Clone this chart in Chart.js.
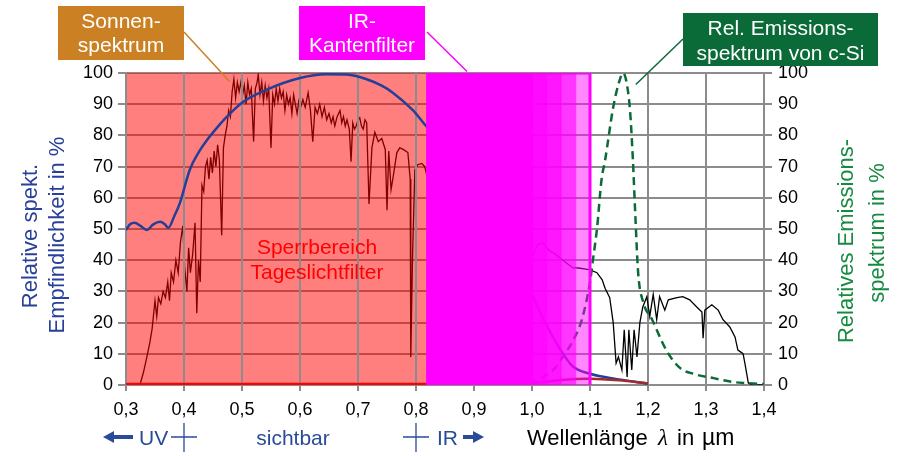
<!DOCTYPE html>
<html>
<head>
<meta charset="utf-8">
<script src="https://cdn.jsdelivr.net/npm/chart.js@4.4.1/dist/chart.umd.min.js"></script>
<style>
  html, body { margin: 0; padding: 0; background: #fff; }
  #c { display: block; }
</style>
</head>
<body>
<canvas id="c" width="897" height="456"></canvas>
<script>
// Sonnenspektrum (relativ, in %)
const sunWl = [0.32, 0.324, 0.33, 0.336, 0.341, 0.345, 0.35, 0.353, 0.356, 0.36, 0.364, 0.368, 0.372, 0.375,
  0.378, 0.382, 0.386, 0.39, 0.394, 0.398, 0.401, 0.405, 0.408, 0.411, 0.415, 0.419, 0.422, 0.425, 0.428,
  0.431, 0.434, 0.437, 0.44, 0.443, 0.446, 0.449, 0.452, 0.455, 0.458, 0.461, 0.465, 0.468, 0.471, 0.474,
  0.477, 0.48, 0.483, 0.486, 0.489, 0.492, 0.495, 0.498, 0.501, 0.504, 0.507, 0.51, 0.513, 0.516, 0.52,
  0.523, 0.526, 0.528, 0.531, 0.534, 0.537, 0.54, 0.543, 0.546, 0.55, 0.553, 0.556, 0.559, 0.562, 0.565,
  0.568, 0.571, 0.574, 0.577, 0.58, 0.583, 0.586, 0.589, 0.592, 0.595, 0.598, 0.601, 0.605, 0.609, 0.614,
  0.618, 0.622, 0.626, 0.63, 0.634, 0.638, 0.642, 0.646, 0.65, 0.654, 0.657, 0.66, 0.664, 0.669, 0.672,
  0.675, 0.678, 0.681, 0.685, 0.688, 0.691, 0.694, 0.697, 0.7, 0.703, 0.706, 0.709, 0.712, 0.715, 0.719,
  0.724, 0.729, 0.735, 0.741, 0.747, 0.75, 0.753, 0.757, 0.76, 0.767, 0.772, 0.778, 0.786, 0.79, 0.791,
  0.794, 0.798, 0.803, 0.81, 0.815, 0.819, 0.83, 0.85, 0.87, 0.89, 0.9, 0.91, 0.92, 0.93, 0.94,
  0.95, 0.962, 0.97, 0.98, 0.99, 1.0, 1.01, 1.019, 1.03, 1.04, 1.05, 1.06, 1.07, 1.08, 1.09,
  1.1, 1.112, 1.121, 1.126, 1.134, 1.14, 1.145, 1.149, 1.155, 1.159, 1.164, 1.167, 1.172, 1.176, 1.181,
  1.186, 1.191, 1.198, 1.203, 1.209, 1.215, 1.22, 1.229, 1.235, 1.25, 1.26, 1.272, 1.284, 1.293, 1.295,
  1.298, 1.31, 1.321, 1.329, 1.341, 1.35, 1.355, 1.362, 1.364, 1.367, 1.373, 1.38, 1.4];
const sunVal = [0, 0, 4, 9, 13.5, 18, 27, 22, 28, 26, 30, 28, 33, 27,
  36, 33, 40, 36, 46, 51, 38, 30, 44, 36, 42, 52, 23, 40, 33,
  64, 62, 70, 72, 66, 73, 68, 75, 70, 77, 72, 48, 76, 80, 83,
  88, 86, 94, 98, 92, 97, 94, 97, 93, 96, 90, 97, 93, 95, 78,
  95, 97, 99.5, 93, 97, 91, 96, 92, 95, 76, 93, 90, 95, 91, 95,
  92, 94, 88, 93, 90, 92, 87, 93, 90, 87, 91, 89, 91.5, 89, 93.7,
  88, 78, 89, 87, 90, 86, 89, 85, 87, 84, 86, 83, 86, 88, 84,
  86, 83, 85, 82, 71.6, 84, 82, 83, 85, 85.7, 83, 82, 85, 84, 58,
  76, 81, 78, 79, 75.5, 56, 75, 62.6, 66, 74.5, 76, 75.5, 74.5, 66, 9,
  41, 69, 70.6, 71, 70, 67, 66, 62, 63, 58, 55, 50, 38, 18, 8,
  10, 12, 22, 32, 38, 41, 45, 45.6, 43, 42, 40.5, 39, 37.6, 37.5, 37.2,
  36.9, 36, 33.7, 31, 28, 20, 7, 9, 4.8, 17.7, 2.6, 17.7, 4.8, 17.7, 9,
  20, 25, 28.3, 22, 29, 21, 28.3, 24, 27.3, 28, 28.3, 27.3, 25, 23.4, 15,
  24, 25.7, 24, 21, 18.6, 15.4, 11.2, 10.3, 10, 7, 0.6, 0, 0];

// Relative spektrale Empfindlichkeit (in %)
const sensWl = [0.3, 0.307, 0.315, 0.325, 0.336, 0.347, 0.359, 0.367, 0.373, 0.383, 0.393, 0.41, 0.425, 0.44,
  0.457, 0.474, 0.5, 0.543, 0.6, 0.646, 0.68, 0.715, 0.74, 0.76, 0.795, 0.82, 0.86, 0.9, 0.94, 0.97,
  1.0, 1.02, 1.05, 1.07, 1.1, 1.15, 1.2];
const sensVal = [49.7, 51.5, 52, 51, 49.7, 51.5, 52.3, 51.5, 50.4, 54, 58.4, 69, 74.5, 78.6,
  82.5, 86, 90.5, 94.7, 98.4, 99.6, 99.5, 98, 96, 93.7, 88, 82.5, 77, 70, 58, 44,
  29, 21, 11, 6, 3.6, 1.8, 0.4];

// Transmission Tageslichtfilter (in %)
const dayWl = [0.3, 0.82, 0.95, 1.0, 1.05, 1.1, 1.15, 1.2];
const dayVal = [0.3, 0.3, 0.3, 0.6, 1.6, 2.0, 1.5, 0.5];

// Relatives Emissionsspektrum von c-Si (in %)
const emWl = [0.95, 0.98, 1.0, 1.02, 1.04, 1.053, 1.07, 1.086, 1.1, 1.105, 1.112, 1.12, 1.126, 1.14, 1.15,
  1.157, 1.163, 1.169, 1.174, 1.178, 1.183, 1.191, 1.207, 1.232, 1.255, 1.28, 1.313, 1.345, 1.37, 1.4];
const emVal = [0, 0.5, 1.2, 2.7, 5.5, 9, 14, 21, 33, 40, 50, 66, 72, 89, 97,
  100, 97, 88, 72, 55, 36, 27, 21, 11, 5.5, 3.5, 2.2, 1, 0.6, 0.3];

// Sperrbereich Tageslichtfilter und Kanten des IR-Filters (in µm)
const blockRange = [0.3, 0.82];
const irStart = 0.82;
const irEdges = [1.1, 1.075, 1.05, 1.025, 1.0];
// Deckkraft je Filterstufe
const irAlpha = [0.47, 0.6, 0.6, 0.6, 0.97];

const gridColor = '#8c8c8c';
const blue = '#233f98';
const fontFam = '"Liberation Sans", Arial, sans-serif';

const pts = (xs, ys) => xs.map((x, i) => ({ x: x, y: ys[i] }));
const box = (x0, x1) => [{ x: x0, y: 0 }, { x: x0, y: 100 }, { x: x1, y: 100 }, { x: x1, y: 0 }];

const datasets = [
  {
    label: 'Sonnenspektrum', data: pts(sunWl, sunVal),
    borderColor: '#000', borderWidth: 1.3, pointRadius: 0, tension: 0, order: 20
  },
  {
    label: 'Sperrbereich', data: box(blockRange[0], blockRange[1]),
    backgroundColor: 'rgba(255,0,0,0.5)', borderWidth: 0, fill: 'origin', pointRadius: 0, order: 19
  },
  {
    label: 'Empfindlichkeit', data: pts(sensWl, sensVal),
    borderColor: blue, borderWidth: 2.5, pointRadius: 0, cubicInterpolationMode: 'monotone', order: 15
  },
  {
    label: 'Tageslichtfilter', data: pts(dayWl, dayVal),
    borderColor: '#a02c2c', borderWidth: 2.5, pointRadius: 0, tension: 0.3, order: 14,
    segment: { borderColor: c => c.p0.parsed.x < irStart ? '#ff0000' : '#a02c2c' }
  },
  {
    label: 'Emission c-Si', data: pts(emWl, emVal), yAxisID: 'y2',
    borderColor: '#0b6b38', borderWidth: 2.5, borderDash: [8, 5], pointRadius: 0,
    cubicInterpolationMode: 'monotone', order: 13
  }
];
// IR-Kantenfilter: übereinanderliegende, halbtransparente Flächen
irEdges.forEach((e, i) => {
  const first = i === 0;
  datasets.push({
    label: 'IR-Kantenfilter ' + e, data: box(irStart, e),
    backgroundColor: 'rgba(255,0,255,' + irAlpha[i] + ')', fill: 'origin', pointRadius: 0,
    borderColor: first ? '#ff00ff' : 'rgba(255,0,255,0.5)', borderWidth: first ? 3 : 1.5,
    order: 10 - i
  });
});

// senkrechte Gitterlinien über dem roten Sperrbereich
const gridOverRed = {
  id: 'gridOverRed',
  afterDatasetDraw(chart, args) {
    if (chart.data.datasets[args.index].label !== 'Sperrbereich') return;
    const { ctx, chartArea, scales: { x } } = chart;
    ctx.save();
    ctx.strokeStyle = gridColor;
    ctx.lineWidth = 2;
    x.ticks.forEach(t => {
      if (t.value > blockRange[1] + 1e-9) return;
      const px = x.getPixelForValue(t.value);
      ctx.beginPath();
      ctx.moveTo(px, chartArea.top);
      ctx.lineTo(px, chartArea.bottom);
      ctx.stroke();
    });
    ctx.restore();
  }
};

function callout(ctx, r, color, lines, baselines, from, to) {
  ctx.strokeStyle = color;
  ctx.lineWidth = 1.5;
  ctx.beginPath();
  ctx.moveTo(from[0], from[1]);
  ctx.lineTo(to[0], to[1]);
  ctx.stroke();
  ctx.fillStyle = color;
  ctx.fillRect(r[0], r[1], r[2], r[3]);
  ctx.fillStyle = '#fff';
  ctx.font = '21px ' + fontFam;
  ctx.textAlign = 'center';
  ctx.textBaseline = 'alphabetic';
  lines.forEach((l, i) => ctx.fillText(l, r[0] + r[2] / 2, baselines[i]));
}

function vText(ctx, text, cy, baseX, color) {
  ctx.save();
  ctx.translate(baseX, cy);
  ctx.rotate(-Math.PI / 2);
  ctx.fillStyle = color;
  ctx.textAlign = 'center';
  ctx.textBaseline = 'alphabetic';
  ctx.fillText(text, 0, 0);
  ctx.restore();
}

function arrow(ctx, tail, head, y, color) {
  const dir = Math.sign(head - tail);
  ctx.strokeStyle = color;
  ctx.fillStyle = color;
  ctx.lineWidth = 4;
  ctx.beginPath();
  ctx.moveTo(tail, y);
  ctx.lineTo(head - dir * 8, y);
  ctx.stroke();
  ctx.beginPath();
  ctx.moveTo(head, y);
  ctx.lineTo(head - dir * 11, y - 6);
  ctx.lineTo(head - dir * 11, y + 6);
  ctx.closePath();
  ctx.fill();
}

function cross(ctx, px, y, color) {
  ctx.strokeStyle = color;
  ctx.lineWidth = 1.3;
  ctx.beginPath();
  ctx.moveTo(px - 13, y);
  ctx.lineTo(px + 13, y);
  ctx.moveTo(px, y - 14);
  ctx.lineTo(px, y + 15);
  ctx.stroke();
}

const annotations = {
  id: 'annotations',
  afterDraw(chart) {
    const { ctx, scales: { x, y } } = chart;
    ctx.save();
    callout(ctx, [58, 6, 126, 54], '#cb8023', ['Sonnen-', 'spektrum'], [28, 52],
      [184, 32], [x.getPixelForValue(0.479), y.getPixelForValue(97.2)]);
    callout(ctx, [299, 6, 126, 54], '#ff00ff', ['IR-', 'Kantenfilter'], [28, 52],
      [427, 32], [x.getPixelForValue(0.888), y.getPixelForValue(100.5)]);
    callout(ctx, [683, 13, 195, 53], '#0b6b38', ['Rel. Emissions-', 'spektrum von c-Si'], [35, 60],
      [683, 39], [x.getPixelForValue(1.179), y.getPixelForValue(96.3)]);

    ctx.fillStyle = '#ff0000';
    ctx.font = '21px ' + fontFam;
    ctx.textAlign = 'center';
    ctx.fillText('Sperrbereich', 317, 254);
    ctx.fillText('Tageslichtfilter', 317, 279);

    ctx.font = '22px ' + fontFam;
    vText(ctx, 'Relative spekt.', 236, 37, '#29409a');
    vText(ctx, 'Empfindlichkeit in %', 235, 64, '#29409a');
    vText(ctx, 'Relatives Emissions-', 241, 853, '#178a42');
    vText(ctx, 'spektrum in %', 233, 884, '#178a42');

    // Zeile unter der x-Achse
    const by = 437;
    const bBlue = '#2a4a9a';
    arrow(ctx, 133, 103, by, bBlue);
    cross(ctx, x.getPixelForValue(0.4), by, bBlue);
    cross(ctx, x.getPixelForValue(0.8), by, bBlue);
    arrow(ctx, 463, 484, by, bBlue);
    ctx.font = '21px ' + fontFam;
    ctx.fillStyle = bBlue;
    ctx.textAlign = 'left';
    ctx.fillText('UV', 139, 445);
    ctx.fillText('IR', 437, 445);
    ctx.textAlign = 'center';
    ctx.fillText('sichtbar', 293, 445);

    ctx.fillStyle = '#000';
    ctx.textAlign = 'left';
    ctx.font = '22px ' + fontFam;
    ctx.fillText('Wellenlänge', 527, 445);
    ctx.fillText('in', 677, 445);
    ctx.font = '23px ' + fontFam;
    ctx.fillText('µm', 702, 445);
    ctx.font = 'italic 23px "Liberation Serif", serif';
    ctx.fillText('λ', 658, 445);
    ctx.restore();
  }
};

const tickFont = { family: fontFam, size: 18 };

new Chart(document.getElementById('c'), {
  type: 'line',
  data: { datasets: datasets },
  options: {
    responsive: false,
    animation: false,
    devicePixelRatio: 1,
    layout: { padding: { top: 73, left: 0, right: 0, bottom: 0 } },
    plugins: { legend: { display: false }, tooltip: { enabled: false } },
    scales: {
      x: {
        type: 'linear', min: 0.3, max: 1.4,
        afterFit: s => { s.height = 71; },
        ticks: {
          stepSize: 0.1, autoSkip: false, maxRotation: 0, padding: 8,
          color: '#000', font: tickFont,
          callback: v => v.toFixed(1).replace('.', ',')
        },
        grid: { color: gridColor, lineWidth: 2, tickLength: 6 },
        border: { color: gridColor, width: 2 }
      },
      y: {
        position: 'left', min: 0, max: 100,
        afterFit: s => { s.width = 126; },
        ticks: { stepSize: 10, padding: 5, color: '#000', font: tickFont },
        grid: { color: gridColor, lineWidth: 2, tickLength: 8 },
        border: { color: gridColor, width: 2 }
      },
      y2: {
        position: 'right', min: 0, max: 100,
        afterFit: s => { s.width = 133; },
        ticks: { stepSize: 10, padding: 6, color: '#000', font: tickFont },
        grid: { drawOnChartArea: false, color: gridColor, lineWidth: 2, tickLength: 8 },
        border: { color: gridColor, width: 2 }
      }
    }
  },
  plugins: [gridOverRed, annotations]
});
</script>
</body>
</html>
